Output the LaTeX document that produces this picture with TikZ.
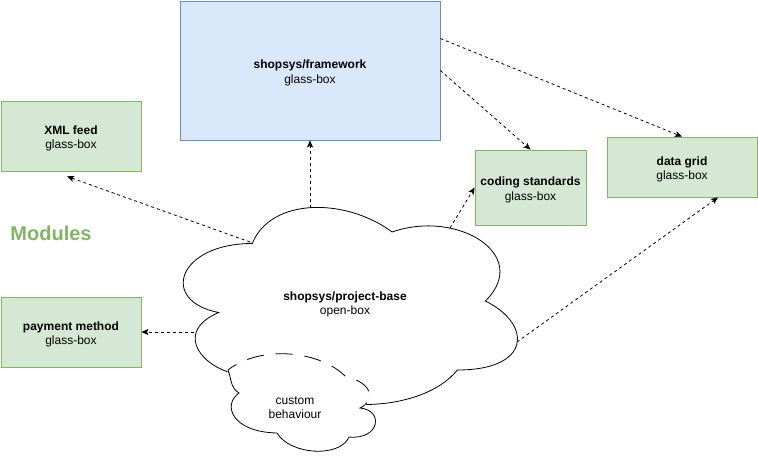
\documentclass[tikz,border=0pt]{standalone}
\usepackage{fontspec}
\setmainfont{Liberation Sans}
\usetikzlibrary{arrows.meta}

\definecolor{glassfill}{HTML}{D5E8D4}
\definecolor{glassline}{HTML}{82B366}
\definecolor{frameworkfill}{HTML}{DAE8FC}
\definecolor{frameworkline}{HTML}{6C8EBF}

\newcommand{\twolines}[2]{\smash{\raisebox{-12.5pt}{\begin{tabular}[b]{@{}c@{}}#1\\#2\end{tabular}}}}
\newcommand{\basecloud}[1]{\path[#1] (252.25,243.5)
  .. controls (177.65,243.5) and (159,301) .. (218.68,312.5)
  .. controls (159,337.8) and (226.14,393) .. (274.63,370)
  .. controls (308.2,416) and (420.1,416) .. (457.4,370)
  .. controls (532,370) and (532,324) .. (485.38,301)
  .. controls (532,255) and (457.4,209) .. (392.13,232)
  .. controls (345.5,197.5) and (270.9,197.5) .. cycle;}
\newcommand{\customcloud}[1]{\path[#1] (228,370)
  .. controls (231,376) and (230,388) .. (239,393)
  .. controls (222,405) and (232,432) .. (277,433)
  .. controls (290,455) and (340,458) .. (349,437)
  .. controls (380,440) and (384,410) .. (360,408)
  .. controls (376,400) and (372,382) .. (346,377)
  .. controls (320,350) and (260,345) .. cycle;}

\begin{document}
\begin{tikzpicture}[x=1pt,y=-1pt,line width=0.8pt,
  every node/.style={font=\fontsize{12}{14.4}\selectfont},
  glassbox/.style={draw=glassline,fill=glassfill,inner sep=0pt},
  uses/.style={dash pattern=on 3pt off 3pt,-{Stealth[length=7pt,width=6pt,inset=1.5pt]}}]
\useasboundingbox (0,0) rectangle (758,472);

\node[draw=frameworkline,fill=frameworkfill,inner sep=0pt,minimum width=260pt,minimum height=139pt] (fw) at (310,70.5) {\twolines{\textbf{shopsys/framework}}{glass-box}};
\node[glassbox,minimum width=140pt,minimum height=70pt] (xml) at (71,136) {\twolines{\textbf{XML feed}}{glass-box}};
\node[glassbox,minimum width=140pt,minimum height=70pt] (pay) at (71,332) {\twolines{\textbf{payment method}}{glass-box}};
\node[glassbox,minimum width=111pt,minimum height=75pt] (cs) at (530.5,187.5) {\twolines{\textbf{coding standards}}{glass-box}};
\node[glassbox,minimum width=150pt,minimum height=60pt] (dg) at (682,167) {\twolines{\textbf{data grid}}{glass-box}};
\node[text=glassline,font=\fontsize{20}{24}\selectfont\bfseries] (modules) at (51,233) {Modules};

\basecloud{draw=black,fill=white}
\customcloud{draw=black,fill=white}
\begin{scope}
\basecloud{clip}
\customcloud{draw=white,line width=2pt}
\customcloud{draw=black,dash pattern=on 17pt off 12pt}
\end{scope}
\node[inner sep=0pt] (pb) at (345,302) {\twolines{\textbf{shopsys/project-base}}{open-box}};
\node[inner sep=0pt] (cb) at (295,406) {\twolines{custom}{behaviour}};

\coordinate (pb-nw) at (250,242);
\coordinate (pb-n) at (310,208);
\coordinate (pb-ne) at (450,228);
\coordinate (pb-e) at (517,342);
\coordinate (pb-w) at (194,332);

\draw[uses] (pb-nw) -- ([xshift=-4pt,yshift=-5pt]xml.south);
\draw[uses] (pb-n) -- (fw.south);
\draw[uses] (pb-ne) -- (cs.west);
\draw[uses] (pb-e) -- ([xshift=36pt]dg.south);
\draw[uses] (pb-w) -- (pay.east);
\draw[uses] ([yshift=32pt]fw.east) -- (dg.north);
\draw[uses] (fw.east) -- (cs.north);
\end{tikzpicture}
\end{document}
